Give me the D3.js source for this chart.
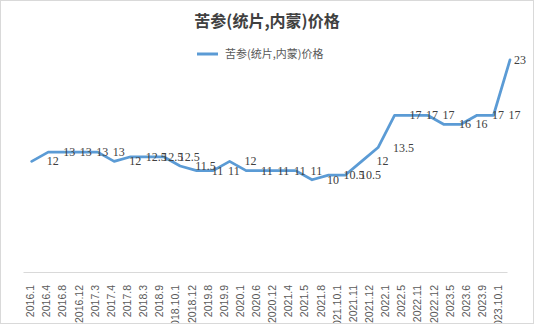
<!DOCTYPE html>
<html>
<head>
<meta charset="utf-8">
<script src="https://cdn.jsdelivr.net/npm/d3@7"></script>
<style>
  html, body { margin: 0; padding: 0; background: #fff; }
  svg { display: block; }
</style>
</head>
<body>
<svg id="chart" width="534" height="324"></svg>
<script>
// Price series for 苦参 (统片, 内蒙)
const categories = [
  "2016.1", "2016.4", "2016.8", "2016.12", "2017.3", "2017.4", "2017.8", "2018.3",
  "2018.9", "2018.10.1", "2018.12", "2019.8", "2019.9", "2020.1", "2020.6", "2020.12",
  "2021.4", "2021.5", "2021.8", "2021.10.1", "2021.11", "2021.12", "2022.1", "2022.5",
  "2022.11", "2022.12", "2023.5", "2023.6", "2023.9", "2023.10.1"
];
const prices = [
  12, 13, 13, 13, 13, 12, 12.5, 12.5,
  12.5, 11.5, 11, 11, 12, 11, 11, 11,
  11, 10, 10.5, 10.5, 12, 13.5, 17, 17,
  17, 16, 16, 17, 17, 23
];
const seriesName = "苦参(统片,内蒙)价格";
const titleText = "苦参(统片,内蒙)价格";

const W = 534, H = 324;
const svg = d3.select("#chart");
const cjk = "'Noto Sans CJK SC', 'Noto Sans', sans-serif";

// outer frame
svg.append("rect")
  .attr("x", 0.5).attr("y", 0.5)
  .attr("width", W - 1).attr("height", H - 1)
  .attr("fill", "#fff").attr("stroke", "#d9d9d9");

const clip = svg.append("defs").append("clipPath").attr("id", "frame")
  .append("rect").attr("x", 1).attr("y", 1).attr("width", W - 2).attr("height", H - 2);

const root = svg.append("g").attr("clip-path", "url(#frame)");

// scales
const xAxisScale = d3.scaleBand().domain(categories).range([23, 507]);
const xLine = d3.scalePoint().domain(categories).range([31.7, 510]);
const y = d3.scaleLinear().domain([0, 25]).range([272, 41.5]);

// title
root.append("text")
  .attr("x", W / 2).attr("y", 27)
  .attr("text-anchor", "middle")
  .attr("font-family", cjk)
  .attr("font-weight", "bold")
  .attr("font-size", 16)
  .attr("fill", "#404040")
  .text(titleText);

// legend
const legend = root.append("g").attr("transform", "translate(197,54)");
legend.append("line")
  .attr("x1", 0).attr("x2", 21).attr("y1", 0).attr("y2", 0)
  .attr("stroke", "#5b9bd5").attr("stroke-width", 3);
legend.append("text")
  .attr("x", 28).attr("y", 4)
  .attr("font-family", cjk)
  .attr("font-size", 11)
  .attr("fill", "#595959")
  .text(seriesName);

// category axis
const axis = root.append("g")
  .attr("transform", "translate(0,272)")
  .call(d3.axisBottom(xAxisScale).tickSize(0).tickSizeOuter(0));
axis.select(".domain").attr("stroke", "#d9d9d9").attr("stroke-width", 1);
axis.selectAll(".tick text")
  .attr("transform", "rotate(-90)")
  .attr("text-anchor", "end")
  .attr("x", -13)
  .attr("y", 0)
  .attr("dy", "0.3em")
  .attr("font-family", "'Liberation Sans', Arial, sans-serif")
  .attr("font-size", 10.5)
  .attr("fill", "#595959");

// price line
const line = d3.line()
  .x((d, i) => xLine(categories[i]))
  .y(d => y(d));

root.append("path")
  .datum(prices)
  .attr("d", line)
  .attr("fill", "none")
  .attr("stroke", "#5b9bd5")
  .attr("stroke-width", 2.75)
  .attr("stroke-linejoin", "round")
  .attr("stroke-linecap", "round");

// value labels, to the right of each point
const labels = root.append("g")
  .attr("font-family", "'Liberation Serif', 'Times New Roman', serif")
  .attr("font-size", 12)
  .attr("fill", "#404040");

labels.selectAll("text")
  .data(prices)
  .join("text")
  .attr("x", (d, i) => xLine(categories[i]) + 15)
  .attr("y", d => y(d) + 4)
  .text(d => d)
  .each(function () {
    // keep labels inside the chart frame
    const w = this.getComputedTextLength();
    const x = +this.getAttribute("x");
    if (x + w > 526) this.setAttribute("x", 526 - w);
  });
</script>
</body>
</html>
